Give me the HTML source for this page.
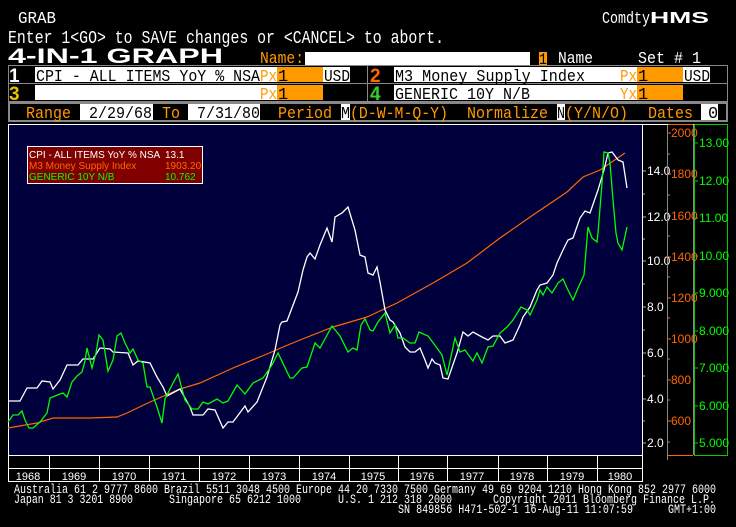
<!DOCTYPE html>
<html><head><meta charset="utf-8"><style>
html,body{margin:0;padding:0;background:#000;}
svg{display:block;}
text{font-family:"Liberation Mono",monospace;}
.s{font-family:"Liberation Sans",sans-serif;}
</style></head><body>
<svg width="736" height="527" viewBox="0 0 736 527" xmlns="http://www.w3.org/2000/svg">
<rect width="736" height="527" fill="#000"/>
<!-- header -->
<text x="18" y="23" fill="#fff" font-size="17" textLength="38" lengthAdjust="spacingAndGlyphs">GRAB</text>
<text x="602" y="23" fill="#fff" font-size="17" textLength="48" lengthAdjust="spacingAndGlyphs">Comdty</text>
<text x="650" y="23" fill="#fff" font-size="16" font-weight="bold" class="s" textLength="59" lengthAdjust="spacingAndGlyphs">HMS</text>
<text x="8" y="43" fill="#fff" font-size="18" textLength="436" lengthAdjust="spacingAndGlyphs">Enter 1&lt;GO&gt; to SAVE changes or &lt;CANCEL&gt; to abort.</text>
<text x="8" y="63" fill="#fff" font-size="21" font-weight="bold" class="s" textLength="215" lengthAdjust="spacingAndGlyphs">4-IN-1 GRAPH</text>
<text x="260" y="63" fill="#f90" font-size="17" textLength="44" lengthAdjust="spacingAndGlyphs">Name:</text>
<rect x="305" y="52" width="225" height="13" fill="#fff"/>
<rect x="539" y="52" width="8" height="13" fill="#f90"/>
<text x="539" y="64" fill="#000" font-size="16" textLength="8" lengthAdjust="spacingAndGlyphs">1</text>
<text x="558" y="63" fill="#fff" font-size="17" textLength="35" lengthAdjust="spacingAndGlyphs">Name</text>
<text x="638" y="63" fill="#fff" font-size="17" textLength="63" lengthAdjust="spacingAndGlyphs">Set # 1</text>
<!-- rows -->
<rect x="8.5" y="65.5" width="719" height="36" fill="none" stroke="#888" stroke-width="1"/>
<line x1="367.5" y1="65" x2="367.5" y2="101" stroke="#888"/>
<line x1="8" y1="83.5" x2="727" y2="83.5" stroke="#888"/>
<text x="9" y="82" fill="#fff" font-size="19" font-weight="bold" class="s">1</text>
<rect x="35" y="67" width="225" height="15" fill="#fff"/>
<text x="36" y="81" fill="#000" font-size="17" textLength="224" lengthAdjust="spacingAndGlyphs">CPI - ALL ITEMS YoY % NSA</text>
<rect x="260" y="67" width="17" height="15" fill="#fff"/>
<text x="260" y="81" fill="#f90" font-size="17" textLength="17" lengthAdjust="spacingAndGlyphs">Px</text>
<rect x="277" y="67" width="46" height="15" fill="#f90"/>
<text x="278" y="81" fill="#000" font-size="17">1</text>
<rect x="323" y="67" width="27" height="15" fill="#fff"/>
<text x="324" y="81" fill="#000" font-size="17" textLength="26" lengthAdjust="spacingAndGlyphs">USD</text>
<text x="370" y="82" fill="#f60" font-size="19" font-weight="bold" class="s">2</text>
<rect x="394" y="67" width="226" height="15" fill="#fff"/>
<text x="395" y="81" fill="#000" font-size="17" textLength="190" lengthAdjust="spacingAndGlyphs">M3 Money Supply Index</text>
<rect x="620" y="67" width="17" height="15" fill="#fff"/>
<text x="620" y="81" fill="#f90" font-size="17" textLength="17" lengthAdjust="spacingAndGlyphs">Px</text>
<rect x="637" y="67" width="46" height="15" fill="#f90"/>
<text x="638" y="81" fill="#000" font-size="17">1</text>
<rect x="683" y="67" width="27" height="15" fill="#fff"/>
<text x="684" y="81" fill="#000" font-size="17" textLength="26" lengthAdjust="spacingAndGlyphs">USD</text>
<text x="9" y="100" fill="#e8c000" font-size="19" font-weight="bold" class="s">3</text>
<rect x="35" y="85" width="225" height="15" fill="#fff"/>
<rect x="260" y="85" width="17" height="15" fill="#fff"/>
<text x="260" y="99" fill="#f90" font-size="17" textLength="17" lengthAdjust="spacingAndGlyphs">Px</text>
<rect x="277" y="85" width="46" height="15" fill="#f90"/>
<text x="278" y="99" fill="#000" font-size="17">1</text>
<text x="370" y="100" fill="#3c3" font-size="19" font-weight="bold" class="s">4</text>
<rect x="394" y="85" width="226" height="15" fill="#fff"/>
<text x="395" y="99" fill="#000" font-size="17" textLength="135" lengthAdjust="spacingAndGlyphs">GENERIC 10Y N/B</text>
<rect x="620" y="85" width="17" height="15" fill="#fff"/>
<text x="620" y="99" fill="#f90" font-size="17" textLength="17" lengthAdjust="spacingAndGlyphs">Yx</text>
<rect x="637" y="85" width="46" height="15" fill="#f90"/>
<text x="638" y="99" fill="#000" font-size="17">1</text>
<!-- range row -->
<rect x="8" y="102" width="720" height="20" fill="#888"/>
<rect x="10" y="104" width="716" height="16" fill="#000"/>
<text x="26" y="118" fill="#f90" font-size="17" textLength="45" lengthAdjust="spacingAndGlyphs">Range</text>
<rect x="80" y="104" width="73" height="16" fill="#fff"/>
<text x="89" y="118" fill="#000" font-size="17" textLength="63" lengthAdjust="spacingAndGlyphs">2/29/68</text>
<text x="162" y="118" fill="#f90" font-size="17" textLength="18" lengthAdjust="spacingAndGlyphs">To</text>
<rect x="188" y="104" width="72" height="16" fill="#fff"/>
<text x="197" y="118" fill="#000" font-size="17" textLength="63" lengthAdjust="spacingAndGlyphs">7/31/80</text>
<text x="278" y="118" fill="#f90" font-size="17" textLength="54" lengthAdjust="spacingAndGlyphs">Period</text>
<rect x="341" y="104" width="9" height="16" fill="#fff"/>
<text x="341" y="118" fill="#000" font-size="17" textLength="9" lengthAdjust="spacingAndGlyphs">M</text>
<text x="350" y="118" fill="#f90" font-size="17" textLength="98" lengthAdjust="spacingAndGlyphs">(D-W-M-Q-Y)</text>
<text x="467" y="118" fill="#f90" font-size="17" textLength="81" lengthAdjust="spacingAndGlyphs">Normalize</text>
<rect x="557" y="104" width="8" height="16" fill="#fff"/>
<text x="557" y="118" fill="#000" font-size="17" textLength="8" lengthAdjust="spacingAndGlyphs">N</text>
<text x="565" y="118" fill="#f90" font-size="17" textLength="63" lengthAdjust="spacingAndGlyphs">(Y/N/O)</text>
<text x="648" y="118" fill="#f90" font-size="17" textLength="45" lengthAdjust="spacingAndGlyphs">Dates</text>
<rect x="701" y="104" width="17" height="16" fill="#fff"/>
<text x="708" y="118" fill="#000" font-size="17">0</text>
<!-- plot -->
<line x1="8" y1="124.5" x2="728" y2="124.5" stroke="#fff"/>
<rect x="8.5" y="124.5" width="634" height="331" fill="#00003c" stroke="#fff"/>
<!-- right axes -->
<line x1="667.5" y1="125" x2="667.5" y2="455" stroke="#888"/>
<line x1="693.5" y1="125" x2="693.5" y2="455" stroke="#888"/>
<line x1="668" y1="124.5" x2="693" y2="124.5" stroke="#f60"/>
<line x1="668" y1="455.5" x2="693" y2="455.5" stroke="#f60"/>
<rect x="694.5" y="124.5" width="33" height="331" fill="none" stroke="#0c0"/>
<g stroke="#aaa">
<path d="M643 171h3M643 217h3M643 261h3M643 307h3M643 353h3M643 399h3M643 443h3M643 194h2M643 239h2M643 284h2M643 330h2M643 376h2M643 421h2"/>
</g>
<g stroke="#f60">
<path d="M668 133h3M668 174h3M668 216h3M668 257h3M668 298h3M668 339h3M668 380h3M668 421h3M668 154h2M668 195h2M668 236h2M668 277h2M668 318h2M668 359h2M668 400h2M668 442h2"/>
</g>
<g stroke="#0c0">
<path d="M695 143h3M695 181h3M695 218h3M695 256h3M695 293h3M695 331h3M695 368h3M695 406h3M695 443h3"/>
</g>
<g fill="#fff" font-size="12">
<text x="647" y="175" class="s">14.0</text><text x="647" y="221" class="s">12.0</text><text x="647" y="265" class="s">10.0</text>
<text x="647" y="311" class="s">8.0</text><text x="647" y="357" class="s">6.0</text><text x="647" y="403" class="s">4.0</text><text x="647" y="447" class="s">2.0</text>
</g>
<rect x="667" y="125" width="1" height="330" fill="#888"/>
<g fill="#f60" font-size="12">
<text x="671" y="137" class="s">2000</text><text x="671" y="178" class="s">1800</text><text x="671" y="220" class="s">1600</text>
<text x="671" y="261" class="s">1400</text><text x="671" y="302" class="s">1200</text><text x="671" y="343" class="s">1000</text>
<text x="671" y="384" class="s">800</text><text x="671" y="425" class="s">600</text>
</g>
<rect x="693" y="125" width="1" height="330" fill="#888"/>
<g fill="#0f0" font-size="12">
<text x="699" y="147" class="s">13.00</text><text x="699" y="185" class="s">12.00</text><text x="699" y="222" class="s">11.00</text>
<text x="699" y="260" class="s">10.00</text><text x="699" y="297" class="s">9.000</text><text x="699" y="335" class="s">8.000</text>
<text x="699" y="372" class="s">7.000</text><text x="699" y="410" class="s">6.000</text><text x="699" y="447" class="s">5.000</text>
</g>
<rect x="667" y="455" width="1" height="5" fill="#888"/>
<rect x="642" y="455" width="1" height="5" fill="#fff"/>
<!-- series -->
<polyline fill="none" stroke="#f60" stroke-width="1.2" points="8,428 37,423 53,418 90,418 117,417 127,413 150,402 180,389 200,383 233,368 267,354 283,347 300,340 333,327 367,317 397,303 433,283 467,263 500,238 533,215 567,192 583,177 600,170 625,153"/>
<polyline fill="none" stroke="#fff" stroke-width="1.3" points="8,401 20,401 27,388 37,388 42,381 50,382 53,389 60,380 67,365 78,365 83,359 93,359 100,348 110,349 113,352 128,353 133,365 138,361 150,363 157,377 163,387 167,396 180,389 190,407 193,415 203,415 208,409 215,410 223,428 228,422 233,422 245,406 248,412 257,402 267,377 275,350 280,325 282,322 287,321 298,292 303,270 307,257 310,253 315,259 320,245 327,228 332,242 335,217 342,213 348,207 355,230 360,255 365,257 368,273 373,275 377,267 380,282 385,310 390,320 393,322 400,333 405,347 410,352 415,352 420,348 425,360 428,368 432,359 435,363 440,365 443,378 448,379 457,353 463,332 468,336 473,332 482,337 488,340 493,336 500,336 505,343 513,340 520,325 523,317 530,307 537,290 540,285 547,283 553,275 557,263 563,250 568,240 573,238 580,218 585,211 590,213 598,190 604,170 608,153 612,152 618,160 623,162 627,188"/>
<polyline fill="none" stroke="#0f0" stroke-width="1.3" points="8,422 13,415 18,415 22,411 25,420 29,428 33,428 40,422 47,413 50,398 60,394 63,393 67,397 72,382 77,376 82,372 85,361 87,348 92,368 96,353 99,335 103,340 108,371 113,360 117,336 121,333 125,343 130,353 133,349 138,360 143,363 147,387 150,387 157,407 162,423 165,399 173,383 178,374 182,389 185,400 192,409 198,409 203,402 208,404 217,399 223,403 228,401 237,385 245,394 253,383 263,378 270,368 273,363 278,353 290,378 293,378 302,368 307,367 315,343 320,348 332,326 340,336 348,352 353,348 357,350 361,325 365,319 370,330 373,331 378,322 385,313 390,333 395,325 398,338 403,338 410,343 415,343 419,332 428,336 437,348 442,355 447,375 455,338 460,352 465,350 473,361 477,353 482,363 488,347 493,346 500,333 507,327 513,320 521,307 527,310 530,315 537,300 540,290 543,295 547,287 552,293 558,283 563,279 567,288 573,300 578,288 584,275 588,227 592,238 597,242 598,233 602,183 604,152 608,153 610,163 613,200 616,233 618,243 622,250 627,227"/>
<!-- legend -->
<rect x="27.5" y="146.5" width="175" height="37" fill="#800000" stroke="#fff"/>
<g font-size="10">
<text x="29" y="158" fill="#fff" class="s">CPI - ALL ITEMS YoY % NSA</text><text x="165" y="158" fill="#fff" class="s">13.1</text>
<text x="29" y="169" fill="#f60" class="s">M3 Money Supply Index</text><text x="165" y="169" fill="#f60" class="s">1903.20</text>
<text x="29" y="180" fill="#0f0" class="s">GENERIC 10Y N/B</text><text x="165" y="180" fill="#0f0" class="s">10.762</text>
</g>
<!-- date axis -->
<g stroke="#fff" stroke-width="1">
<line x1="8" y1="468.5" x2="643" y2="468.5"/>
<line x1="8" y1="481.5" x2="643" y2="481.5"/>
<line x1="8.5" y1="455" x2="8.5" y2="482"/>
<line x1="49.5" y1="455" x2="49.5" y2="482"/><line x1="99.5" y1="455" x2="99.5" y2="482"/>
<line x1="149.5" y1="455" x2="149.5" y2="482"/><line x1="199.5" y1="455" x2="199.5" y2="482"/>
<line x1="249.5" y1="455" x2="249.5" y2="482"/><line x1="299.5" y1="455" x2="299.5" y2="482"/>
<line x1="349.5" y1="455" x2="349.5" y2="482"/><line x1="398.5" y1="455" x2="398.5" y2="482"/>
<line x1="447.5" y1="455" x2="447.5" y2="482"/><line x1="498.5" y1="455" x2="498.5" y2="482"/>
<line x1="547.5" y1="455" x2="547.5" y2="482"/><line x1="597.5" y1="455" x2="597.5" y2="482"/>
<line x1="642.5" y1="455" x2="642.5" y2="482"/>
</g>
<g fill="#fff" font-size="11" text-anchor="middle">
<text x="28" y="480" class="s">1968</text><text x="74" y="480" class="s">1969</text><text x="124" y="480" class="s">1970</text>
<text x="174" y="480" class="s">1971</text><text x="224" y="480" class="s">1972</text><text x="274" y="480" class="s">1973</text>
<text x="324" y="480" class="s">1974</text><text x="373" y="480" class="s">1975</text><text x="422" y="480" class="s">1976</text>
<text x="472" y="480" class="s">1977</text><text x="522" y="480" class="s">1978</text><text x="572" y="480" class="s">1979</text>
<text x="620" y="480" class="s">1980</text>
</g>
<!-- footer -->
<g fill="#fff" font-size="12.5">
<text x="14" y="493" textLength="702" lengthAdjust="spacingAndGlyphs">Australia 61 2 9777 8600 Brazil 5511 3048 4500 Europe 44 20 7330 7500 Germany 49 69 9204 1210 Hong Kong 852 2977 6000</text>
<text x="14" y="503" textLength="119" lengthAdjust="spacingAndGlyphs">Japan 81 3 3201 8900</text>
<text x="169" y="503" textLength="132" lengthAdjust="spacingAndGlyphs">Singapore 65 6212 1000</text>
<text x="338" y="503" textLength="114" lengthAdjust="spacingAndGlyphs">U.S. 1 212 318 2000</text>
<text x="493" y="503" textLength="222" lengthAdjust="spacingAndGlyphs">Copyright 2011 Bloomberg Finance L.P.</text>
<text x="398" y="513" textLength="235" lengthAdjust="spacingAndGlyphs">SN 849856 H471-502-1 16-Aug-11 11:07:59</text>
<text x="668" y="513" textLength="48" lengthAdjust="spacingAndGlyphs">GMT+1:00</text>
</g>
</svg>
</body></html>
